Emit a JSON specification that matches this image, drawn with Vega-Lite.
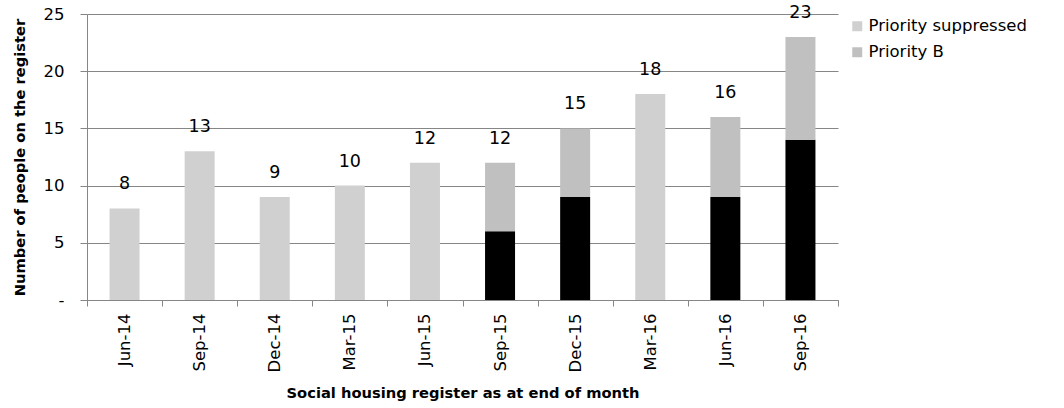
{
  "$schema": "https://vega.github.io/schema/vega-lite/v6.json",
  "autosize": {"type": "none"},
  "width": 751,
  "height": 286,
  "padding": {"left": 87, "top": 14, "right": 226, "bottom": 108},
  "background": "white",
  "config": {
    "font": "DejaVu Sans",
    "view": {"stroke": null}
  },
  "data": {
    "values": [
      {"month": "Jun-14", "series": "Priority suppressed", "value": 8, "ord": 1},
      {"month": "Sep-14", "series": "Priority suppressed", "value": 13, "ord": 1},
      {"month": "Dec-14", "series": "Priority suppressed", "value": 9, "ord": 1},
      {"month": "Mar-15", "series": "Priority suppressed", "value": 10, "ord": 1},
      {"month": "Jun-15", "series": "Priority suppressed", "value": 12, "ord": 1},
      {"month": "Sep-15", "series": "Priority A", "value": 6, "ord": 1},
      {"month": "Sep-15", "series": "Priority B", "value": 6, "ord": 2},
      {"month": "Dec-15", "series": "Priority A", "value": 9, "ord": 1},
      {"month": "Dec-15", "series": "Priority B", "value": 6, "ord": 2},
      {"month": "Mar-16", "series": "Priority suppressed", "value": 18, "ord": 1},
      {"month": "Jun-16", "series": "Priority A", "value": 9, "ord": 1},
      {"month": "Jun-16", "series": "Priority B", "value": 7, "ord": 2},
      {"month": "Sep-16", "series": "Priority A", "value": 14, "ord": 1},
      {"month": "Sep-16", "series": "Priority B", "value": 9, "ord": 2}
    ]
  },
  "encoding": {
    "x": {
      "field": "month",
      "type": "nominal",
      "sort": null,
      "scale": {"paddingInner": 0, "paddingOuter": 0},
      "axis": {
        "title": "Social housing register as at end of month",
        "titleFontSize": 14.7,
        "titleFontWeight": "bold",
        "titleColor": "black",
        "titlePadding": 14,
        "labelAngle": -90,
        "labelFontSize": 16.5,
        "labelColor": "black",
        "labelPadding": 7,
        "tickBand": "extent",
        "tickSize": 6,
        "tickColor": "#868686",
        "domainColor": "#868686",
        "grid": false
      }
    }
  },
  "layer": [
    {
      "mark": {"type": "bar", "size": 30},
      "encoding": {
        "y": {
          "field": "value",
          "type": "quantitative",
          "stack": "zero",
          "scale": {"domain": [0, 25], "nice": false, "padding": 0},
          "axis": {
            "title": "Number of people on the register",
            "titleFontSize": 14.7,
            "titleFontWeight": "bold",
            "titleColor": "black",
            "titlePadding": 16,
            "values": [0, 5, 10, 15, 20, 25],
            "labelExpr": "datum.value == 0 ? '-' : datum.label",
            "labelFontSize": 16.5,
            "labelColor": "black",
            "labelPadding": 16,
            "tickSize": 7,
            "tickColor": "#868686",
            "domainColor": "#868686",
            "gridColor": "#868686",
            "gridWidth": 1
          }
        },
        "color": {
          "field": "series",
          "type": "nominal",
          "scale": {
            "domain": ["Priority suppressed", "Priority B", "Priority A"],
            "range": ["#d0d0d0", "#c0c0c0", "#000000"]
          },
          "legend": {
            "values": ["Priority suppressed", "Priority B"],
            "title": null,
            "orient": "none",
            "legendX": 762,
            "legendY": 4,
            "symbolType": "square",
            "symbolSize": 100,
            "symbolStrokeWidth": 0,
            "labelFontSize": 16.5,
            "labelColor": "black",
            "labelOffset": 3,
            "rowPadding": 9
          }
        },
        "order": {"field": "ord", "type": "quantitative"}
      }
    },
    {
      "transform": [
        {"aggregate": [{"op": "sum", "field": "value", "as": "total"}], "groupby": ["month"]}
      ],
      "mark": {"type": "text", "fontSize": 17.5, "color": "black", "dy": -24},
      "encoding": {
        "y": {"field": "total", "type": "quantitative"},
        "text": {"field": "total", "type": "quantitative"}
      }
    }
  ]
}
